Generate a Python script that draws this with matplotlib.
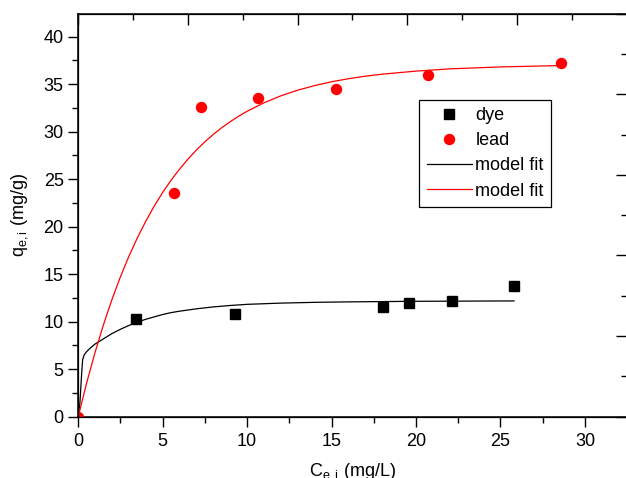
import numpy as np
import matplotlib
matplotlib.use('Agg')
import matplotlib.pyplot as plt
from matplotlib.ticker import MultipleLocator

plt.rcParams['font.family'] = ['Liberation Sans', 'DejaVu Sans']
plt.rcParams['mathtext.fontset'] = 'custom'
plt.rcParams['mathtext.rm'] = 'Liberation Sans'
plt.rcParams['mathtext.it'] = 'Liberation Sans:italic'

# measured points
dye_x = [3.42, 9.3, 18.06, 19.6, 22.15, 25.8]
dye_y = [10.25, 10.8, 11.55, 11.95, 12.2, 13.75]
lead_x = [0.0, 5.67, 7.28, 10.65, 15.28, 20.7, 28.6]
lead_y = [0.0, 23.5, 32.6, 33.5, 34.5, 36.0, 37.2]

# fitted curves
dye_fit_x = [0.0, 0.1, 0.2, 0.26, 0.35, 0.5, 0.7, 1.0, 1.5, 2.0, 2.5, 3.0,
             3.5, 4.0, 4.5, 5.0, 5.5, 6.0, 7.0, 8.0, 9.0, 10.0, 12.0, 14.0,
             16.0, 20.0, 25.8]
dye_fit_y = [0.0, 1.5, 4.5, 6.0, 6.5, 6.85, 7.2, 7.65, 8.2, 8.75, 9.2, 9.6,
             9.95, 10.25, 10.5, 10.75, 10.95, 11.1, 11.35, 11.55, 11.7, 11.82,
             11.95, 12.03, 12.08, 12.14, 12.18]
lead_fit_x = [0.0, 0.5, 1.0, 1.5, 2.0, 2.5, 3.0, 3.5, 4.0, 4.5, 5.0, 5.5,
              6.0, 6.5, 7.0, 7.5, 8.0, 8.5, 9.0, 9.5, 10.0, 11.0, 12.0, 13.0,
              14.0, 15.0, 16.0, 17.0, 18.0, 20.0, 22.0, 25.0, 28.6]
lead_fit_y = [0.0, 3.57, 6.8, 9.71, 12.35, 14.73, 16.88, 18.82, 20.57, 22.16,
              23.6, 24.89, 26.05, 27.11, 28.06, 28.93, 29.7, 30.41, 31.04,
              31.62, 32.14, 33.03, 33.76, 34.36, 34.84, 35.24, 35.56, 35.83,
              36.04, 36.36, 36.6, 36.8, 36.95]

fig = plt.figure(figsize=(6.26, 4.78), dpi=100)
ax = fig.add_axes([0.125, 0.1283, 0.876, 0.843])

ax.plot(dye_x, dye_y, 's', color='black', markersize=6.5, label='dye', zorder=3)
ax.plot(lead_x, lead_y, 'o', color='#ff0000', markersize=7.2, label='lead', zorder=3)
ax.plot(dye_fit_x, dye_fit_y, '-', color='black', lw=0.9, label='model fit')
ax.plot(lead_fit_x, lead_fit_y, '-', color='#ff0000', lw=0.9, label='model fit')

ax.set_xlim(0, 32.47)
ax.set_ylim(0, 42.4)
ax.xaxis.set_major_locator(MultipleLocator(5))
ax.xaxis.set_minor_locator(MultipleLocator(2.5))
ax.yaxis.set_major_locator(MultipleLocator(5))
ax.yaxis.set_minor_locator(MultipleLocator(2.5))
ax.tick_params(which='major', direction='out', length=7, width=1, labelsize=13)
ax.tick_params(which='minor', direction='out', length=4, width=1)
ax.tick_params(axis='x', pad=5)

ax.set_xlabel(r'C$_{\mathrm{e,i}}$ (mg/L)', fontsize=13, labelpad=8)
ax.set_ylabel(r'q$_{\mathrm{e,i}}$ (mg/g)', fontsize=13, labelpad=10)

for s in ax.spines.values():
    s.set_linewidth(1.1)

# unlabeled top/right axes
ax_top = ax.twiny()
ax_top.set_xlim(0, 5)
ax_top.xaxis.set_major_locator(MultipleLocator(1))
ax_top.xaxis.set_minor_locator(MultipleLocator(0.5))
ax_top.tick_params(which='major', direction='in', length=8, width=1, labeltop=False)
ax_top.tick_params(which='minor', direction='in', length=4, width=1)

ax_right = ax.twinx()
ax_right.set_ylim(0, 5)
ax_right.yaxis.set_major_locator(MultipleLocator(1))
ax_right.yaxis.set_minor_locator(MultipleLocator(0.5))
ax_right.tick_params(which='major', direction='in', length=8, width=1, labelright=False)
ax_right.tick_params(which='minor', direction='in', length=4, width=1)

leg = ax.legend(loc='upper left', bbox_to_anchor=(419.3 / 626, 1 - 100 / 478),
                bbox_transform=fig.transFigure, fontsize=13, frameon=True,
                fancybox=False, edgecolor='black', framealpha=1,
                handlelength=2.5, handletextpad=0.2, labelspacing=0.45,
                borderpad=0.4, borderaxespad=0)
leg.get_frame().set_linewidth(0.9)

fig.savefig('out.png', dpi=100)
